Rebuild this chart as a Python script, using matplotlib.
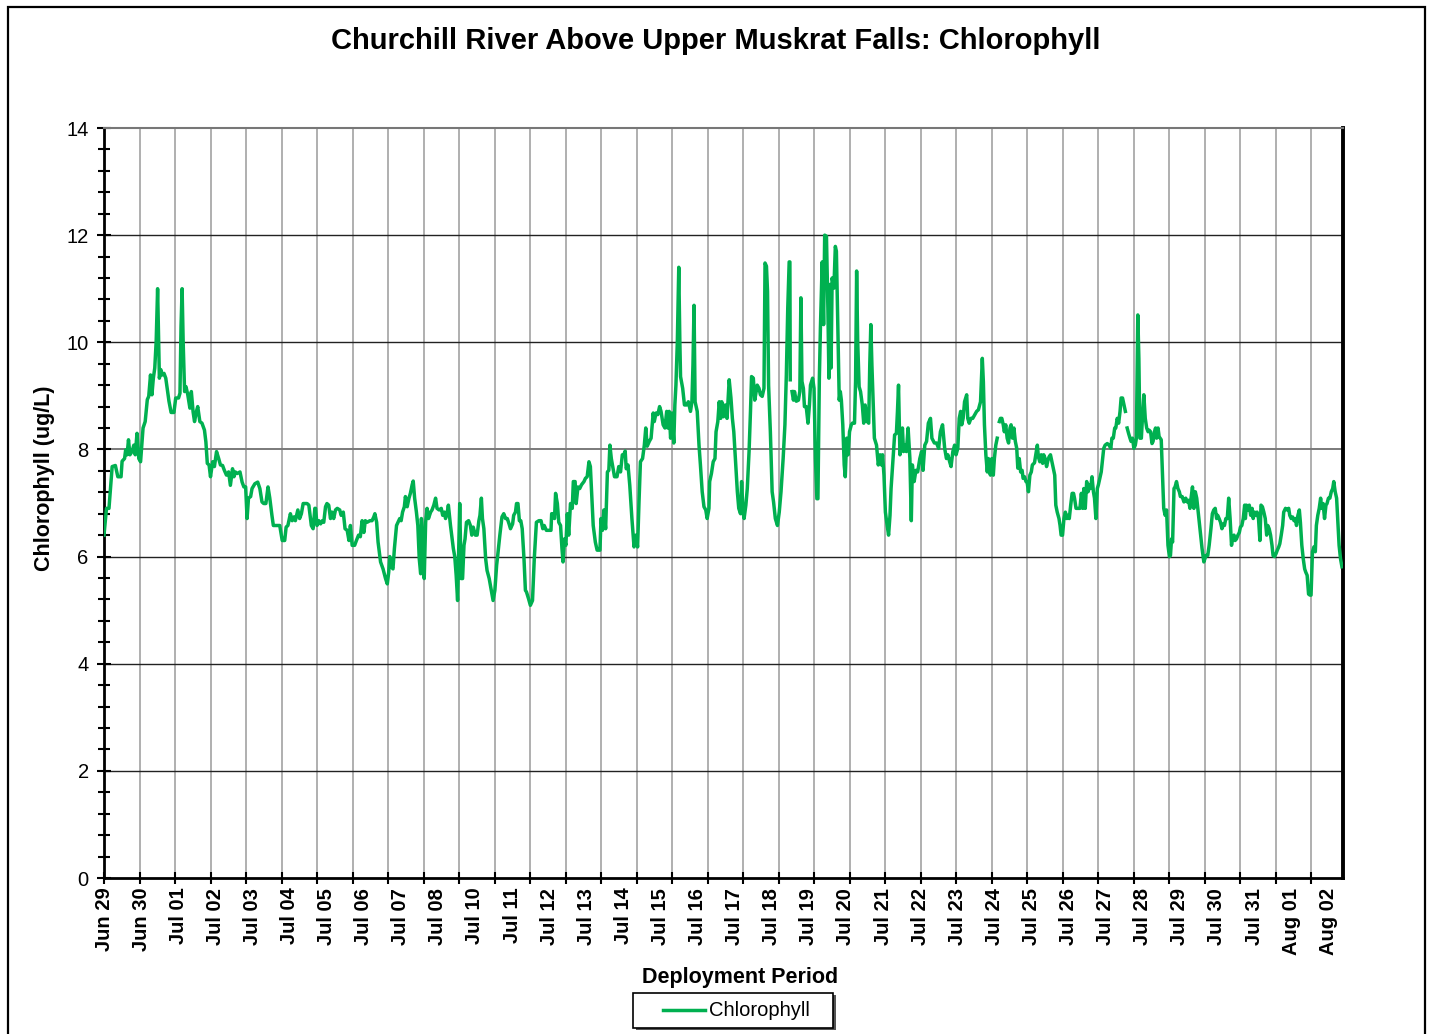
import numpy as np
import matplotlib
matplotlib.use("Agg")
import matplotlib.pyplot as plt
from matplotlib.lines import Line2D
from matplotlib.patches import Rectangle

plt.rcParams['font.family'] = ['Liberation Sans', 'DejaVu Sans']

# ---------------- data (days since Jun 29 00:00, chlorophyll ug/L) ----------------
days_wk1 = [0.00,0.07,0.14,0.23,0.32,0.39,0.48,0.51,0.58,0.61,0.65,0.69,0.73,0.79,0.84,0.88,0.93,0.98,
            1.03,1.10,1.16,1.22,1.26,1.31,1.35,1.39,1.43,1.47,1.51,1.54,1.56,1.60,1.64,1.69,1.74,1.83,1.89,1.97,
            2.02,2.10,2.14,2.17,2.20,2.23,2.27,2.31,2.36,2.42,2.46,2.51,2.55,2.60,2.64,2.70,2.76,2.83,2.87,2.91,2.96,
            3.00,3.06,3.11,3.17,3.23,3.28,3.34,3.39,3.45,3.51,3.56,3.62,3.66,3.70,3.75,3.83,3.89,3.94,3.99,
            4.03,4.07,4.13,4.17,4.25,4.33,4.39,4.45,4.50,4.56,4.62,4.67,4.73,4.77,4.88,4.95,
            5.02,5.09,5.13,5.18,5.22,5.25,5.30,5.35,5.39,5.46,5.51,5.56,5.61,5.72,5.77,5.84,5.89,5.94]
chl_wk1 = [6.40,6.90,6.90,7.68,7.70,7.49,7.49,7.78,7.83,7.99,7.90,8.18,7.90,7.96,8.08,7.90,8.30,7.83,
           7.77,8.40,8.52,8.93,8.99,9.39,9.02,9.33,9.52,10.02,11.00,10.00,9.33,9.49,9.39,9.42,9.33,8.90,8.69,8.69,
           8.96,8.96,9.05,10.30,11.00,10.00,9.08,9.17,9.02,8.77,9.08,8.70,8.52,8.70,8.80,8.52,8.49,8.36,8.14,7.74,7.71,
           7.49,7.77,7.68,7.96,7.83,7.71,7.70,7.61,7.52,7.58,7.33,7.64,7.49,7.58,7.55,7.58,7.39,7.30,7.30,
           6.71,7.09,7.12,7.27,7.36,7.39,7.27,7.02,6.99,6.99,7.30,7.09,6.77,6.58,6.58,6.58,
           6.30,6.30,6.55,6.58,6.71,6.80,6.67,6.74,6.67,6.87,6.71,6.80,6.99,6.99,6.96,6.58,6.52,6.90]

days_wk2 = [5.96,6.00,6.05,6.10,6.15,6.19,6.24,6.28,6.33,6.38,6.42,6.47,6.52,6.57,6.64,6.68,6.74,6.79,6.85,6.90,6.94,6.99,
            7.06,7.11,7.17,7.22,7.27,7.32,7.36,7.41,7.49,7.55,7.60,7.63,7.68,7.72,7.79,7.86,7.93,7.98,
            8.02,8.05,8.09,8.14,8.18,8.24,8.28,8.33,8.37,8.41,8.46,8.49,8.54,8.59,8.63,8.68,8.71,8.75,8.80,8.84,8.88,8.92,8.94,8.97,
            9.02,9.06,9.10,9.14,9.20,9.24,9.29,9.34,9.38,9.44,9.50,9.54,9.59,9.62,9.67,9.70,9.76,9.84,9.88,9.92,9.96,9.99,
            10.02,10.06,10.10,10.14,10.17,10.21,10.27,10.32,10.36,10.40,10.46,10.51,10.56,10.59,10.63,10.66,10.70,10.75,10.79,10.85,10.91,10.96,
            11.01,11.06,11.09,11.15,11.21,11.26,11.31,11.36,11.41,11.45,11.51,11.54,11.59,11.62,11.66,11.70,11.74,11.78,11.83,11.87]
chl_wk2 = [6.90,6.58,6.67,6.61,6.67,6.64,6.93,6.99,6.96,6.71,6.83,6.71,6.87,6.90,6.87,6.77,6.83,6.52,6.49,6.30,6.58,6.21,
           6.21,6.30,6.40,6.37,6.67,6.45,6.67,6.64,6.67,6.67,6.74,6.80,6.64,6.27,5.90,5.77,5.59,5.49,
           5.71,6.00,5.81,5.77,6.15,6.58,6.64,6.71,6.67,6.83,6.93,7.12,6.93,7.09,7.18,7.34,7.41,7.09,6.83,6.58,5.96,5.68,6.71,6.45,
           5.59,6.64,6.90,6.71,6.83,6.87,6.96,7.09,6.90,6.87,6.90,6.77,6.83,6.71,6.83,6.96,6.58,6.15,6.00,5.65,5.18,6.09,
           6.99,5.59,5.59,6.21,6.33,6.64,6.67,6.58,6.40,6.55,6.40,6.40,6.67,6.77,7.09,6.71,6.52,5.96,5.74,5.59,5.37,5.18,
           5.37,5.84,6.02,6.40,6.74,6.80,6.71,6.71,6.61,6.52,6.61,6.77,6.83,6.99,6.99,6.67,6.67,6.52,5.96,5.37]

days_wk3 = [11.90,11.96,12.01,12.07,12.12,12.18,12.25,12.31,12.36,12.40,12.46,12.53,12.59,12.61,12.66,12.69,12.72,12.77,12.81,12.86,12.90,12.93,12.97,
            13.01,13.05,13.09,13.14,13.19,13.22,13.27,13.30,13.35,13.40,13.45,13.52,13.56,13.61,13.66,13.70,13.74,13.78,13.84,13.89,13.97,
            14.00,14.04,14.08,14.13,14.18,14.22,14.25,14.29,14.34,14.38,14.45,14.50,14.55,14.60,14.64,14.68,14.71,14.76,14.81,14.87,14.93,14.98,
            15.03,15.07,15.11,15.17,15.22,15.26,15.30,15.36,15.41,15.47,15.50,15.55,15.60,15.65,15.69,15.75,15.80,15.85,15.88,15.92,15.96,
            16.00,16.05,16.08,16.11,16.15,16.19,16.22,16.24,16.30,16.35,16.41,16.46,16.52,16.56,16.59,16.62,16.65,16.71,16.76,16.80,16.85,16.90,16.95,16.99,
            17.04,17.06,17.11,17.16,17.21,17.24,17.29,17.33,17.37,17.40,17.45,17.50,17.55,17.61,17.66,17.70,17.74,17.79]
chl_wk3 = [5.34,5.21,5.09,5.18,5.96,6.64,6.67,6.67,6.52,6.58,6.49,6.49,6.49,6.80,6.80,6.71,7.18,6.99,6.64,6.58,6.15,5.90,6.33,
           6.21,6.80,6.40,6.99,6.90,7.40,7.40,6.99,7.30,7.27,7.34,7.40,7.46,7.49,7.77,7.68,7.15,6.58,6.27,6.12,6.12,
           6.71,6.49,6.87,6.52,7.58,7.61,8.08,7.83,7.64,7.49,7.49,7.68,7.58,7.90,7.90,7.97,7.64,7.71,7.33,6.71,6.18,6.40,
           6.18,7.02,7.77,7.83,8.08,8.40,8.06,8.15,8.21,8.68,8.52,8.68,8.65,8.80,8.71,8.46,8.40,8.71,8.40,8.71,8.21,
           8.68,8.12,8.83,9.20,10.02,11.40,10.02,9.36,9.14,8.83,8.83,8.89,8.71,8.89,9.58,10.69,8.89,8.71,8.08,7.71,7.21,6.93,6.87,6.71,
           6.90,7.40,7.55,7.77,7.83,8.33,8.52,8.89,8.58,8.89,8.61,8.83,8.58,9.30,8.96,8.58,8.33,7.77]

days_wk4 = [17.84,17.88,17.93,17.96,18.00,18.03,18.08,18.12,18.17,18.21,18.24,18.29,18.33,18.37,18.40,18.45,18.49,18.54,18.59,18.62,18.66,18.69,18.72,
            18.77,18.82,18.86,18.91,18.97,19.02,19.07,19.13,19.18,19.22,19.26,19.30,19.32,19.33,19.355,
            19.38,19.42,19.45,19.50,19.56,19.60,19.63,19.66,19.70,19.73,19.78,19.83,19.87,19.90,19.96,
            20.00,20.04,20.08,20.11,20.15,20.18,20.23,20.27,20.30,20.35,20.39,20.42,20.45,20.48,20.51,20.56,20.60,20.63,20.67,20.71,20.74,20.77,20.81,20.85,20.88,20.92,20.96,
            21.00,21.05,21.08,21.14,21.17,21.20,21.23,21.27,21.31,21.36,21.40,21.44,21.50,21.54,21.57,21.60,21.63,21.67,21.70,21.76,21.81,21.86,21.90,21.93,21.97,
            22.01,22.06,22.10,22.14,22.17,22.22,22.27,22.32,22.35,22.38,22.42,22.46,22.49,22.52,22.56,22.60,22.65,22.70,22.74,22.77,22.82,22.87,22.92,22.98,
            23.03,23.07,23.12,23.17,23.22,23.28,23.32,23.39,23.45,23.51,23.56,23.62,23.68]
chl_wk4 = [7.21,6.90,6.80,7.40,6.83,6.71,6.96,7.27,7.96,8.71,9.36,9.33,8.92,9.08,9.20,9.14,9.02,8.99,9.14,11.48,11.42,10.95,9.20,
           8.33,7.21,7.02,6.71,6.58,6.83,7.21,7.83,8.46,9.39,10.64,11.50,11.50,9.30,np.nan,
           9.08,8.92,9.08,8.90,8.92,9.08,10.83,9.27,9.14,8.80,8.80,8.49,8.83,9.20,9.33,
           9.14,7.83,7.08,7.08,9.33,10.27,11.50,10.33,12.00,11.98,10.64,9.33,11.08,9.52,11.20,11.01,11.79,11.70,10.33,8.92,9.08,8.92,8.46,7.71,7.49,8.21,7.90,
           8.33,8.46,8.49,8.49,9.27,11.33,10.02,9.17,9.08,8.83,8.49,8.83,8.52,8.49,9.58,10.33,9.58,8.83,8.21,8.08,7.71,7.90,7.71,7.90,7.52,
           6.83,6.58,6.40,6.77,7.27,7.77,8.27,8.30,8.71,9.20,7.90,8.08,8.40,7.96,8.08,7.96,8.40,7.83,6.67,7.71,7.40,7.61,7.58,7.83,
           7.96,7.61,8.08,8.15,8.49,8.58,8.21,8.12,8.12,8.02,8.33,8.46,8.02]

days_wk5 = [23.73,23.77,23.82,23.86,23.91,23.96,24.00,24.05,24.09,24.13,24.16,24.20,24.24,24.30,24.33,24.37,24.42,24.47,24.52,24.58,24.63,24.69,24.74,24.77,24.80,24.84,24.88,24.91,24.94,24.97,
            25.01,25.05,25.08,25.12,25.16,25.19,
            25.22,25.25,25.29,25.33,25.36,25.40,25.44,25.48,25.52,25.55,25.59,25.63,25.67,25.71,25.74,25.78,25.82,25.86,25.89,25.93,25.97,
            26.00,26.04,26.08,26.12,26.15,26.21,26.25,26.29,26.32,26.36,26.40,26.44,26.47,26.51,26.55,26.59,26.62,26.66,26.70,26.74,26.78,26.81,26.85,26.90,26.93,26.96,
            27.00,27.04,27.08,27.12,27.15,27.19,27.23,27.27,27.31,27.34,27.38,27.44,27.49,27.53,27.57,27.60,27.64,27.68,27.72,27.76,27.79,27.83,27.87,27.90,27.94,27.98,
            28.01,28.05,28.09,28.13,28.16,28.20,28.26,28.31,28.36,28.39,28.43,28.47,28.50,28.54,28.58,28.62,28.65,28.69,28.73,28.77,28.795,
            28.82,28.86,28.90,28.93,28.97,29.01,29.05,29.08,29.12,29.15,29.18,29.22,29.26,29.29,29.33,29.37,29.41,29.44,29.48,29.52,29.55,29.59]
chl_wk5 = [7.83,7.90,7.77,7.68,7.96,8.08,7.90,8.02,8.58,8.71,8.46,8.58,8.89,9.02,8.58,8.49,8.58,8.58,8.64,8.71,8.74,8.89,9.70,9.26,8.46,7.90,7.58,7.83,7.58,7.52,
           7.83,7.52,7.83,8.08,8.21,np.nan,
           8.52,8.58,8.58,8.46,8.33,8.46,8.21,8.12,8.40,8.46,8.21,8.40,8.15,8.02,7.65,7.83,7.58,7.61,7.46,7.49,7.40,
           7.40,7.21,7.52,7.58,7.71,7.75,7.92,8.08,7.86,7.77,7.90,7.74,7.90,7.83,7.68,7.80,7.86,7.90,7.77,7.64,7.52,6.96,6.83,6.71,6.58,6.40,
           6.40,6.71,6.83,6.71,6.77,6.71,6.96,7.18,7.18,7.08,6.90,6.90,6.90,7.18,6.90,7.27,6.90,7.40,7.21,7.34,7.27,7.49,7.21,7.09,6.71,7.27,
           7.34,7.46,7.58,7.83,8.02,8.08,8.11,8.08,8.02,8.21,8.21,8.40,8.40,8.58,8.49,8.71,8.96,8.96,8.83,8.71,np.nan,
           8.40,8.30,8.21,8.15,8.21,8.02,8.08,8.21,10.51,9.70,8.21,8.21,8.71,9.02,8.58,8.40,8.33,8.36,8.33,8.11,8.15,8.33]

days_wk6 = [29.62,29.65,29.69,29.72,29.78,29.82,29.85,29.89,29.93,29.97,
            30.01,30.04,30.07,30.10,30.14,30.17,30.21,30.25,30.29,30.32,30.37,30.42,30.47,30.51,30.55,30.59,30.62,30.66,30.70,30.74,30.78,30.83,30.89,30.93,30.98,
            31.04,31.09,31.13,31.18,31.22,31.26,31.30,31.34,31.37,31.41,31.45,31.49,31.53,31.56,31.60,31.64,31.68,31.72,31.76,31.79,31.83,31.86,31.90,31.94,31.98,
            32.01,32.05,32.09,32.13,32.15,32.18,32.22,32.26,32.30,32.34,32.37,32.41,32.45,32.48,32.52,32.56,32.59,32.63,32.67,32.71,32.75,32.78,32.82,32.86,32.90,32.93,32.97,
            33.01,33.05,33.09,33.12,33.16,33.20,33.23,33.28,33.33,33.37,33.40,33.44,33.48,33.52,33.56,33.59,33.63,33.67,33.70,33.74,33.78,33.82,33.85,33.89,33.93,33.97,
            34.00,34.04,34.08,34.12,34.15,34.19,34.23,34.27,34.30,34.34,34.38,34.42,34.45,34.49,34.53,34.57,34.61,34.64,34.68,34.72,34.76,34.79,34.83,34.87]
chl_wk6 = [8.40,8.21,8.40,8.24,8.18,7.46,6.90,6.77,6.87,6.21,
           6.00,6.02,6.33,6.27,7.27,7.30,7.40,7.27,7.21,7.12,7.12,7.02,7.09,7.02,7.05,6.90,7.09,7.30,6.90,7.21,7.09,6.77,6.40,6.15,5.90,
           6.02,6.02,6.21,6.52,6.80,6.87,6.90,6.71,6.77,6.71,6.64,6.52,6.61,6.58,6.71,6.71,7.09,6.71,6.21,6.36,6.40,6.30,6.33,6.40,6.45,
           6.55,6.58,6.71,6.96,6.71,6.96,6.87,6.96,6.77,6.90,6.71,6.83,6.77,6.83,6.71,6.30,6.96,6.93,6.83,6.71,6.40,6.58,6.52,6.40,6.21,6.02,6.00,
           6.05,6.12,6.18,6.24,6.40,6.58,6.83,6.90,6.87,6.90,6.77,6.71,6.74,6.67,6.71,6.58,6.77,6.87,6.64,6.21,5.96,5.77,5.71,5.65,5.30,5.28,
           5.28,6.09,6.18,6.09,6.58,6.77,6.90,7.09,6.90,6.99,6.71,6.96,6.99,7.09,7.09,7.21,7.27,7.40,7.21,7.09,6.58,6.21,5.96,5.81]

tick_labels = ["Jun 29", "Jun 30", "Jul 01", "Jul 02", "Jul 03", "Jul 04", "Jul 05", "Jul 06",
               "Jul 07", "Jul 08", "Jul 10", "Jul 11", "Jul 12", "Jul 13", "Jul 14", "Jul 15",
               "Jul 16", "Jul 17", "Jul 18", "Jul 19", "Jul 20", "Jul 21", "Jul 22", "Jul 23",
               "Jul 24", "Jul 25", "Jul 26", "Jul 27", "Jul 28", "Jul 29", "Jul 30", "Jul 31",
               "Aug 01", "Aug 02"]
label_step_days = 1.045

days = np.array(days_wk1 + days_wk2 + days_wk3 + days_wk4 + days_wk5 + days_wk6, dtype=float)
chl = np.array(chl_wk1 + chl_wk2 + chl_wk3 + chl_wk4 + chl_wk5 + chl_wk6, dtype=float)

# ---------------- figure ----------------
W, H = 1429, 1034
fig = plt.figure(figsize=(W / 100, H / 100), dpi=100)
fig.patch.set_facecolor('white')

# outer frame
fig.add_artist(Rectangle((8 / W, -0.01), (1425 - 8) / W, (H - 7) / H + 0.01,
                         transform=fig.transFigure, fill=False, edgecolor='black', linewidth=1.6))

ax = fig.add_axes([104 / W, (H - 878) / H, (1343 - 104) / W, (878 - 128) / H])

green = '#00B050'
ax.plot(days, chl, color=green, linewidth=2.5, solid_joinstyle='round', zorder=3)

ax.set_xlim(0, 34.9)
ax.set_ylim(0, 14)

# y axis
ax.set_yticks(np.arange(0, 15, 2))
ax.set_yticks(np.arange(0, 14.01, 0.4), minor=True)
ax.tick_params(axis='y', which='major', direction='inout', length=10, width=1.5, labelsize=14.5, pad=6)
ax.tick_params(axis='y', which='minor', direction='inout', length=9, width=1.5)

# x axis: day ticks and grid, date labels at their own spacing
ax.xaxis.remove_overlapping_locs = False
ax.set_xticks(np.arange(0, 35, 1))
ax.set_xticklabels([])
ax.tick_params(axis='x', which='major', direction='inout', length=9, width=1.5)
label_pos = np.arange(len(tick_labels)) * label_step_days
ax.set_xticks(label_pos, minor=True)
ax.set_xticklabels(tick_labels, minor=True, rotation=90, fontsize=14.5, fontweight='bold')
ax.tick_params(axis='x', which='minor', length=0, pad=7)

ax.grid(False)
for d in np.arange(1, 35, 1):
    ax.axvline(d, color='#9a9a9a', linewidth=1.1, zorder=1)
for v in np.arange(2, 14, 2):
    ax.axhline(v, color='#7a7a7a' if v == 8 else '#222222', linewidth=1.0 if v != 8 else 1.4, zorder=1)

for side in ['left', 'bottom']:
    ax.spines[side].set_linewidth(2.0)
    ax.spines[side].set_color('black')
ax.spines['right'].set_linewidth(2.8)
ax.spines['right'].set_color('black')
ax.spines['top'].set_linewidth(1.5)
ax.spines['top'].set_color('#777777')

fig.text(716 / W, (H - 41) / H, 'Churchill River Above Upper Muskrat Falls: Chlorophyll',
         ha='center', va='center', fontsize=21, fontweight='bold')
fig.text(45 / W, (H - 478) / H, 'Chlorophyll (ug/L)', rotation=90, ha='center', va='center',
         fontsize=15.5, fontweight='bold')
fig.text(740 / W, (H - 978) / H, 'Deployment Period', ha='center', va='center',
         fontsize=15.5, fontweight='bold')

# legend box (drawn in figure pixels)
fig.add_artist(Rectangle((636 / W, (H - 1030) / H), 200 / W, 35 / H, transform=fig.transFigure,
                         facecolor='#555555', edgecolor='none'))
fig.add_artist(Rectangle((633 / W, (H - 1028) / H), 200 / W, 35 / H, transform=fig.transFigure,
                         facecolor='white', edgecolor='black', linewidth=1.2))
fig.add_artist(Line2D([663 / W, 705 / W], [(H - 1010) / H] * 2, transform=fig.transFigure,
                      color=green, linewidth=2.5))
fig.text(709 / W, (H - 1010) / H, 'Chlorophyll', ha='left', va='center', fontsize=14.5)

fig.savefig('out.png', dpi=100)
